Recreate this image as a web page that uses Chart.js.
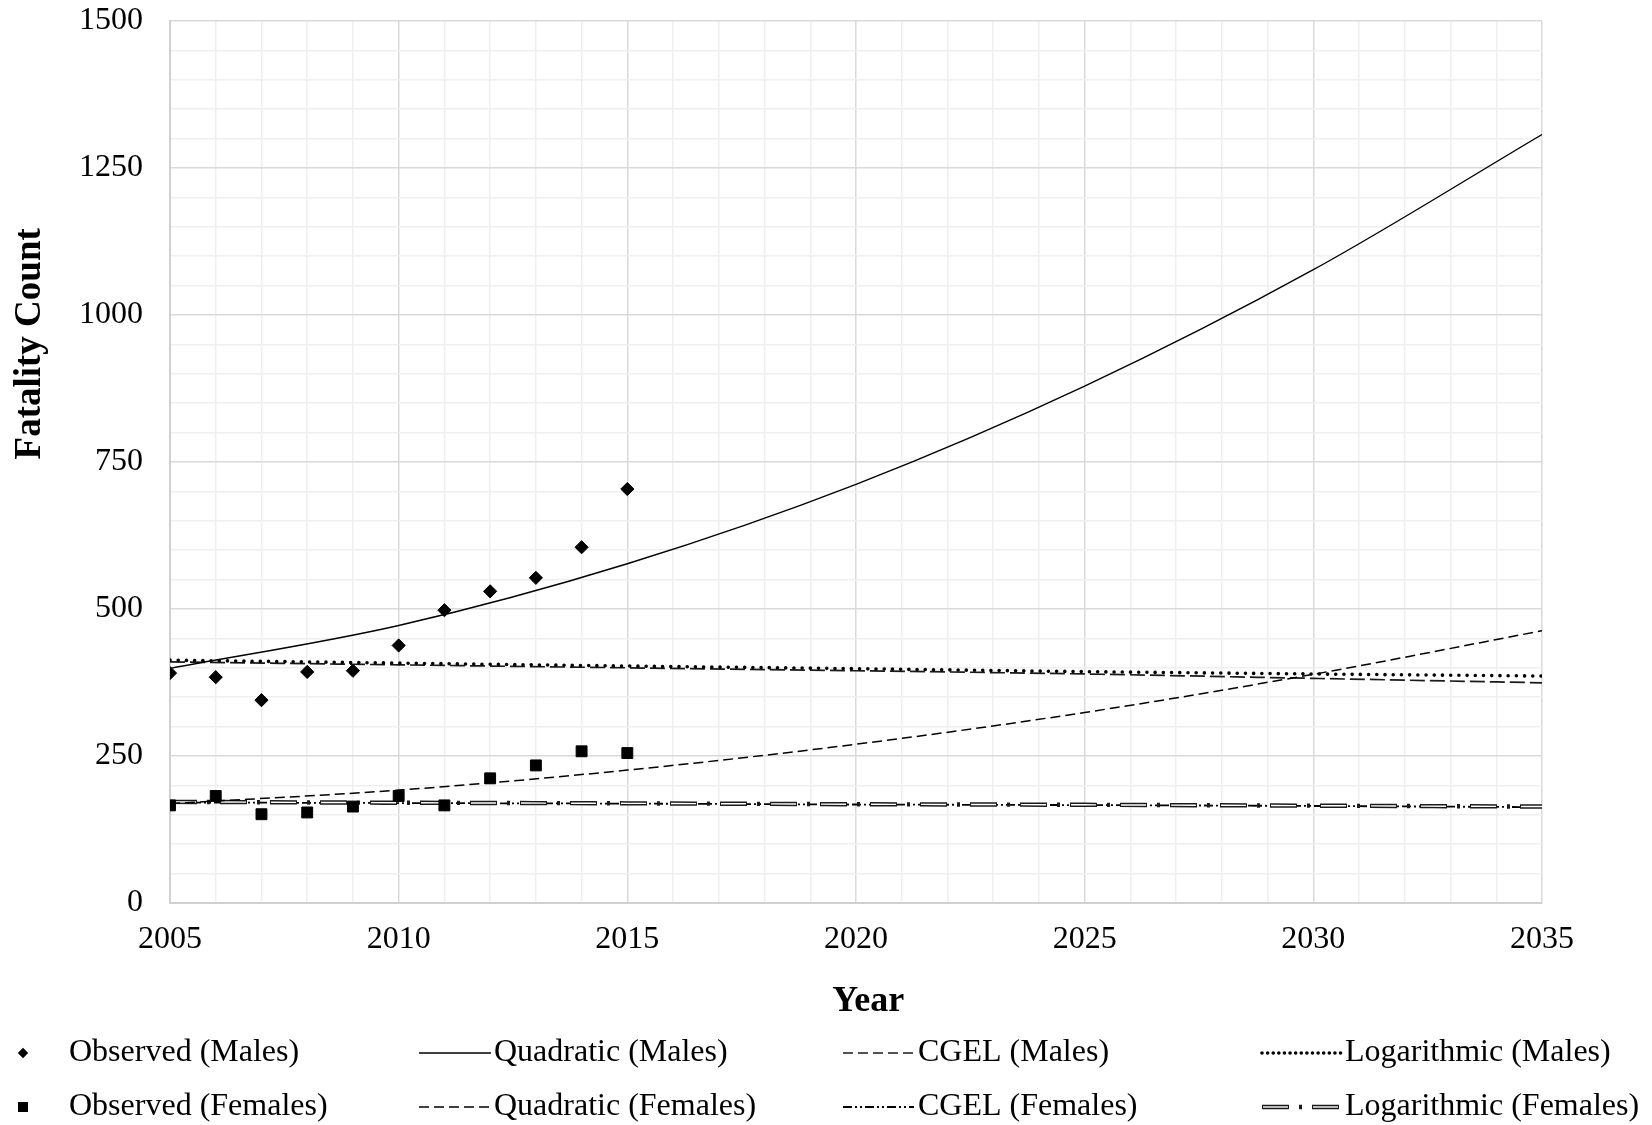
<!DOCTYPE html>
<html>
<head>
<meta charset="utf-8">
<title>Fatality Count projections</title>
<script src="https://cdn.jsdelivr.net/npm/chart.js@4.4.1/dist/chart.umd.min.js"></script>
<style>
  html, body { margin: 0; padding: 0; background: #ffffff; }
  #wrap { width: 1652px; height: 1125px; }
  canvas { display: block; }
</style>
</head>
<body>
<div id="wrap"><canvas id="chart" width="1652" height="1125"></canvas></div>
<script>
// Observed fatalities, 2005–2015
const observedYears = [2005, 2006, 2007, 2008, 2009, 2010, 2011, 2012, 2013, 2014, 2015];
const observedMales = [391, 384, 345, 393, 395, 438, 498, 530, 553, 605, 704];
const observedFemales = [166, 182, 151, 154, 164, 182, 166, 212, 234, 258, 255];

// Fitted models projected to 2035
const projectionYears = [2005, 2010, 2015, 2020, 2025, 2030, 2035];
const quadraticMales = [399, 472, 577, 712, 879, 1077, 1307];
const quadraticFemales = [169, 192, 226, 270, 324, 389, 463];
const cgelMales = [410, 405, 400, 395, 389.5, 382, 374.5];
const cgelFemales = [171, 170, 169, 167.5, 166.5, 165, 163];
const logMales = [413, 408, 403, 398.5, 393.5, 389.5, 386];
const logFemales = [172, 170.5, 169.5, 168, 167, 165.5, 164];

// Labelled ticks
const xTickLabels = [2005, 2010, 2015, 2020, 2025, 2030, 2035];
const yTickLabels = [0, 250, 500, 750, 1000, 1250, 1500];

const xAxisTitle = 'Year';
const yAxisTitle = 'Fatality Count';

const SERIF = "'Liberation Serif', 'Times New Roman', serif";
const INK = '#000000';

function points(xs, ys) {
  return xs.map((x, i) => ({ x: x, y: ys[i] }));
}

function trend(label, ys, style, order) {
  return Object.assign({
    label: label,
    data: points(projectionYears, ys),
    showLine: true,
    pointRadius: 0,
    pointHoverRadius: 0,
    borderColor: INK,
    borderWidth: 1.5,
    backgroundColor: 'transparent',
    fill: false,
    cubicInterpolationMode: 'monotone',
    order: order
  }, style);
}

const datasets = [
  {
    label: 'Observed (Males)',
    data: points(observedYears, observedMales),
    pointStyle: 'rectRot',
    pointRadius: 6.6,
    pointBorderWidth: 1,
    backgroundColor: INK,
    borderColor: INK,
    showLine: false,
    order: 0
  },
  {
    label: 'Observed (Females)',
    data: points(observedYears, observedFemales),
    pointStyle: 'rect',
    pointRadius: 7.7,
    pointBorderWidth: 1,
    backgroundColor: INK,
    borderColor: INK,
    showLine: false,
    order: 1
  },
  trend('Quadratic (Males)', quadraticMales, { borderWidth: 1.4 }, 2),
  trend('Quadratic (Females)', quadraticFemales, { borderDash: [10, 5] }, 3),
  trend('CGEL (Males)', cgelMales, { borderDash: [15, 5], borderWidth: 1.7, borderColor: '#1a1a1a', legendDash: [10, 5], legendWidth: 1.5 }, 8),
  trend('CGEL (Females)', cgelFemales, { borderDash: [9, 3, 2, 3, 2, 3], borderWidth: 1.8 }, 6),
  trend('Logarithmic (Males)', logMales, { borderDash: [0.01, 8.2], borderWidth: 3.6, borderCapStyle: 'round', legendDash: [0.01, 5.6] }, 7),
  // double-stroke line: dark outer band with a pale core on the long dashes
  trend('Logarithmic (Females)', logFemales, { borderDash: [27, 10, 3, 10], borderWidth: 4.4, borderColor: '#1a1a1a' }, 5),
  trend('Logarithmic (Females) core', logFemales, { borderDash: [25, 25], borderDashOffset: -1, borderWidth: 1.4, borderColor: '#ffffff' }, 4)
];

// Legend laid out as a 4 x 2 grid below the axis title
const legendGrid = {
  rows: [1053, 1107],
  cols: [
    { marker: 23, text: 69 },
    { from: 419, to: 491, text: 494 },
    { from: 843, to: 914, text: 918 },
    { from: 1262, to: 1341, text: 1345 }
  ],
  items: [
    { sets: [0], col: 0, row: 0 },
    { sets: [1], col: 0, row: 1 },
    { sets: [2], col: 1, row: 0 },
    { sets: [3], col: 1, row: 1 },
    { sets: [4], col: 2, row: 0 },
    { sets: [5], col: 2, row: 1 },
    { sets: [6], col: 3, row: 0 },
    { sets: [7, 8], col: 3, row: 1 }
  ]
};

const titlesAndLegend = {
  id: 'titlesAndLegend',
  afterDraw(chart) {
    const ctx = chart.ctx;
    const area = chart.chartArea;
    ctx.save();
    ctx.fillStyle = INK;
    ctx.textAlign = 'center';
    ctx.textBaseline = 'middle';
    // x-axis title
    ctx.font = 'bold 36px ' + SERIF;
    ctx.fillText(xAxisTitle, area.left + (area.right - area.left) * 0.509, 1002);
    // y-axis title
    ctx.font = 'bold 37px ' + SERIF;
    ctx.save();
    ctx.translate(30, area.top + (area.bottom - area.top) * 0.366);
    ctx.rotate(-Math.PI / 2);
    ctx.fillText(yAxisTitle, 0, 0);
    ctx.restore();

    // legend
    const ds = chart.data.datasets;
    legendGrid.items.forEach(item => {
      const col = legendGrid.cols[item.col];
      const y = legendGrid.rows[item.row];
      const first = ds[item.sets[0]];
      if (first.showLine === false) {
        ctx.fillStyle = INK;
        ctx.beginPath();
        if (first.pointStyle === 'rectRot') {
          const r = 5.2;
          ctx.moveTo(col.marker, y - r);
          ctx.lineTo(col.marker + r, y);
          ctx.lineTo(col.marker, y + r);
          ctx.lineTo(col.marker - r, y);
          ctx.closePath();
        } else {
          const h = 5;
          ctx.rect(col.marker - h, y - h, 2 * h, 2 * h);
        }
        ctx.fill();
      } else {
        item.sets.forEach(idx => {
          const d = ds[idx];
          ctx.save();
          ctx.strokeStyle = d.borderColor;
          ctx.lineWidth = d.legendWidth || d.borderWidth;
          ctx.lineCap = d.borderCapStyle || 'butt';
          ctx.setLineDash(d.legendDash || d.borderDash || []);
          ctx.lineDashOffset = d.borderDashOffset || 0;
          ctx.beginPath();
          ctx.moveTo(col.from, y);
          ctx.lineTo(col.to, y);
          ctx.stroke();
          ctx.restore();
        });
      }
      ctx.fillStyle = INK;
      ctx.font = '32px ' + SERIF;
      ctx.textAlign = 'left';
      ctx.textBaseline = 'middle';
      ctx.fillText(first.label, col.text, y);
    });
    ctx.restore();
  }
};

const MAJOR_GRID = '#d9d9d9';
const MINOR_GRID = '#efefef';

new Chart(document.getElementById('chart'), {
  type: 'scatter',
  data: { datasets: datasets },
  options: {
    responsive: false,
    animation: false,
    events: [],
    layout: { padding: { left: 0, top: 21, right: 110, bottom: 162 } },
    plugins: {
      legend: { display: false },
      tooltip: { enabled: false },
      title: { display: false }
    },
    scales: {
      x: {
        type: 'linear',
        min: 2005,
        max: 2035,
        afterFit(scale) {
          scale.height = 60;
          scale.paddingLeft = 0;
          scale.paddingRight = 0;
        },
        border: { display: true, color: '#d0d0d0', width: 2 },
        grid: {
          drawTicks: false,
          lineWidth: 1.5,
          color: c => (c.tick && xTickLabels.includes(c.tick.value)) ? MAJOR_GRID : MINOR_GRID
        },
        ticks: {
          stepSize: 1,
          autoSkip: false,
          maxTicksLimit: 1000,
          minRotation: 0,
          maxRotation: 0,
          padding: 17,
          color: INK,
          font: { family: SERIF, size: 32 },
          callback: v => xTickLabels.includes(v) ? String(v) : ''
        }
      },
      y: {
        type: 'linear',
        min: 0,
        max: 1500,
        afterFit(scale) {
          scale.width = 170;
          scale.paddingTop = 0;
          scale.paddingBottom = 0;
        },
        border: { display: true, color: '#d0d0d0', width: 2 },
        grid: {
          drawTicks: false,
          lineWidth: 1.5,
          color: c => (c.tick && yTickLabels.includes(c.tick.value)) ? MAJOR_GRID : MINOR_GRID
        },
        ticks: {
          stepSize: 50,
          autoSkip: false,
          maxTicksLimit: 1000,
          padding: 27,
          color: INK,
          font: { family: SERIF, size: 32 },
          callback: v => yTickLabels.includes(v) ? String(v) : ''
        }
      }
    }
  },
  plugins: [titlesAndLegend]
});
</script>
</body>
</html>
